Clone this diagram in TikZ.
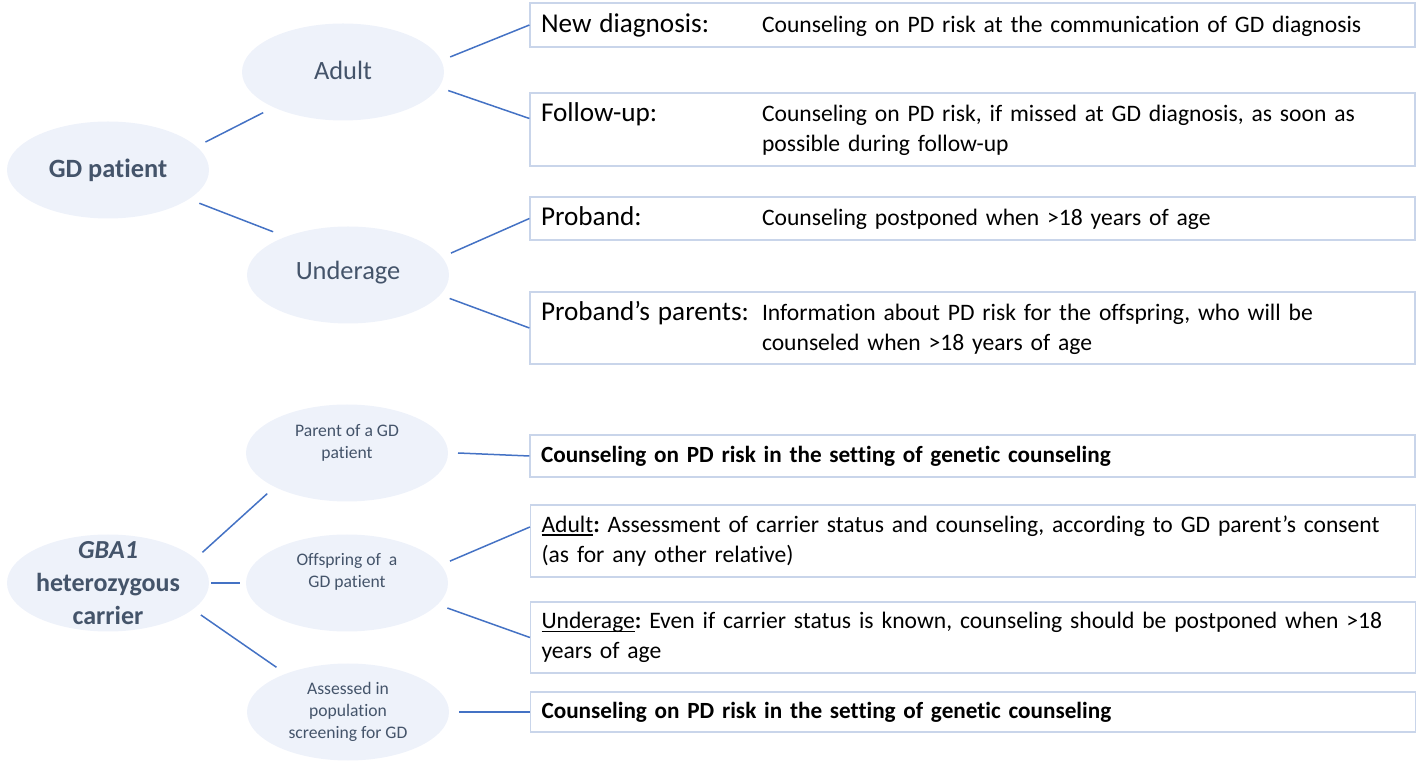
\documentclass[tikz,border=0pt]{standalone}
\usepackage{fontspec}
\setmainfont{Carlito}[Ligatures={NoCommon,NoContextual}, Contextuals=NoAlternate]
\usetikzlibrary{shapes.geometric}
\frenchspacing

\definecolor{elipse}{HTML}{EEF2FA}
\definecolor{texto}{HTML}{44546A}
\definecolor{ligacao}{HTML}{4472C4}
\definecolor{borda}{HTML}{C9D5EA}

\newcommand{\rotulo}[2]{\makebox[110.5pt][l]{\fontsize{13.6}{16}\selectfont #1}\parbox[t]{318pt}{#2}}
\newcommand{\sublinha}[1]{\setbox0\hbox{#1}\rlap{\rule[-1.6pt]{\wd0}{0.6pt}}\box0}

\begin{document}
\begin{tikzpicture}[x=0.5pt, y=-0.5pt,
    blob/.style={ellipse, fill=elipse, minimum width=101pt, minimum height=48.5pt, inner sep=0pt, outer sep=5pt},
    grande/.style={text=texto, font=\fontsize{13.2}{16.5}\selectfont, align=center},
    pequeno/.style={text=texto, font=\fontsize{8.8}{11}\selectfont, align=center},
    caixa/.style={draw=borda, line width=0.6pt, inner xsep=5.5pt, text width=431.5pt, align=left, font=\fontsize{11.8}{15}\selectfont},
    forte/.style={font=\fontsize{11.6}{15}\selectfont\bfseries},
    liga/.style={draw=ligacao, line width=0.75pt}]
        \useasboundingbox (0,0) rectangle (1418,763);

        % Elipses
        \node[blob] (gd) at (108,170) {};
        \node[grande, font=\fontsize{13.2}{16.5}\selectfont\bfseries] (gdT) at (gd) {GD patient};
        \node[blob] (adult) at (343,72) {};
        \node[grande] (adultT) at (343,70) {Adult};
        \node[blob] (under) at (348,275) {};
        \node[grande] (underT) at (348,273) {Underage};
        \node[blob] (gba) at (108,583) {};
        \node[grande, font=\fontsize{13}{16.5}\selectfont\bfseries] (gbaT) at (gba) {\textit{GBA1}\\heterozygous\\carrier};
        \node[blob] (parent) at (347,453) {};
        \node[pequeno] (parentT) at (347,443) {Parent of a GD\\patient};
        \node[blob] (offs) at (347,583) {};
        \node[pequeno] (offsT) at (347,572) {Offspring of~ a\\GD patient};
        \node[blob] (assess) at (348,712) {};
        \node[pequeno] (assessT) at (assess) {Assessed in\\population\\screening for GD};

        % Caixas
        \node[caixa, minimum height=22pt] (b1) at (972.5,25) {\rotulo{New diagnosis:}{Counseling on PD risk at the communication of GD diagnosis}};
        \node[caixa, minimum height=36.5pt] (b2) at (972.5,129.5) {\rotulo{Follow-up:}{Counseling on PD risk, if missed at GD diagnosis, as soon as\\possible during follow-up}};
        \node[caixa, minimum height=21.5pt] (b3) at (972.5,218.5) {\rotulo{Proband:}{Counseling postponed when >18 years of age}};
        \node[caixa, minimum height=36pt] (b4) at (972.5,328) {\rotulo{Proband’s parents:}{Information about PD risk for the offspring, who will be\\counseled when >18 years of age}};
        \node[caixa, forte, minimum height=21pt] (b5) at (972.5,456) {Counseling on PD risk in the setting of genetic counseling};
        \node[caixa, minimum height=36pt] (b6) at (973,541) {\mbox{\sublinha{Adult}\textbf{:} Assessment of carrier status and counseling, according to GD parent’s consent}\\(as for any other relative)};
        \node[caixa, minimum height=35.5pt] (b7) at (973,637.5) {\mbox{\sublinha{Underage}\textbf{:} Even if carrier status is known, counseling should be postponed when >18}\\years of age};
        \node[caixa, forte, minimum height=20pt] (b8) at (973,712) {Counseling on PD risk in the setting of genetic counseling};

        % Ligações
        \draw[liga] (gd.16) -- (adult.207);
        \draw[liga] (gd.340) -- (under.150);
        \draw[liga] (adult.8) -- (b1.west);
        \draw[liga] (adult.350) -- ([yshift=5.5pt]b2.west);
        \draw[liga] (under.12) -- (b3.west);
        \draw[liga] (under.347) -- (b4.west);
        \draw[liga] (gba.18) -- (parent.207);
        \draw[liga, shorten <=-4pt, shorten >=-2pt] (gba.east) -- (offs.west);
        \draw[liga] (gba.341) -- (assess.148);
        \draw[liga] (parent.east) -- (b5.west);
        \draw[liga] (offs.12) -- ([yshift=7pt]b6.west);
        \draw[liga] (offs.346) -- (b7.west);
        \draw[liga] (assess.east) -- (b8.west);
    \end{tikzpicture}
\end{document}
